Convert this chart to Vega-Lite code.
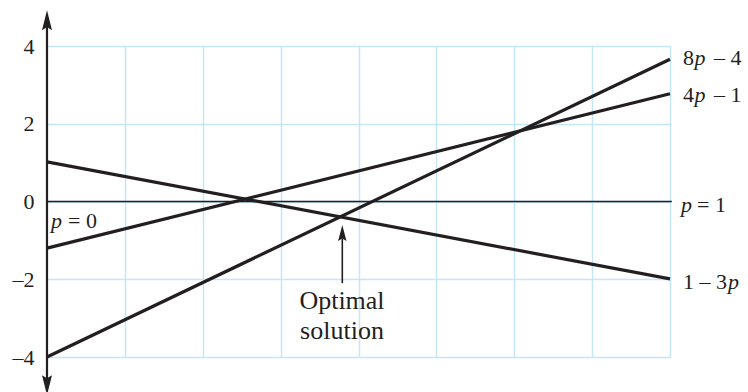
{
  "$schema": "https://vega.github.io/schema/vega-lite/v6.json",
  "width": 623,
  "height": 311,
  "autosize": {"type": "none"},
  "padding": {"left": 47, "top": 46, "right": 78, "bottom": 35},
  "background": "white",
  "config": {"view": {"stroke": null}, "font": "'Liberation Serif', 'Times New Roman', Times, serif"},
  "datasets": {
    "lines": [
      {"line": "8p-4", "p": 0, "v": -4.0},
      {"line": "8p-4", "p": 1, "v": 3.66},
      {"line": "4p-1", "p": 0, "v": -1.2},
      {"line": "4p-1", "p": 1, "v": 2.77},
      {"line": "1-3p", "p": 0, "v": 1.02},
      {"line": "1-3p", "p": 1, "v": -1.99}
    ],
    "zero": [{"p": 0, "v": 0}, {"p": 1.003, "v": 0}],
    "yaxis": [{"p": 0, "v": 4.6}, {"p": 0, "v": -4.6}],
    "shaft": [{"p": 0.474, "v": -2.1}, {"p": 0.474, "v": -0.95}],
    "arrows": [
      {"dir": "up", "p": 0, "v": 4.6},
      {"dir": "down", "p": 0, "v": -4.66},
      {"dir": "opt", "p": 0.474, "v": -0.862}
    ],
    "labels": [
      {"id": "a", "p": 1, "v": 3.7, "pre": "8", "it": "p", "post": "– 4"},
      {"id": "b", "p": 1, "v": 2.74, "pre": "4", "it": "p", "post": "– 1"},
      {"id": "c", "p": 1, "v": -0.09, "pre": "", "it": "p", "post": "= 1"},
      {"id": "d", "p": 1, "v": -2.06, "pre": "1 – 3", "it": "p", "post": ""},
      {"id": "e", "p": 0, "v": -0.5, "pre": "", "it": "p", "post": "= 0"}
    ],
    "notes": [
      {"p": 0.4735, "v": -2.57, "t": "Optimal"},
      {"p": 0.4735, "v": -3.32, "t": "solution"}
    ]
  },
  "layer": [
    {
      "data": {"name": "lines"},
      "mark": {"type": "line", "color": "#231f20", "strokeWidth": 3.2, "clip": false},
      "encoding": {
        "x": {
          "field": "p", "type": "quantitative",
          "scale": {"domain": [0, 1], "nice": false, "zero": false},
          "axis": {
            "title": null, "values": [0.125, 0.25, 0.375, 0.5, 0.625, 0.75, 0.875, 1],
            "grid": true, "gridColor": "#c4e6f6", "gridWidth": 1.5,
            "labels": false, "ticks": false, "domain": false
          }
        },
        "y": {
          "field": "v", "type": "quantitative",
          "scale": {"domain": [-4, 4], "nice": false, "zero": false},
          "axis": {
            "title": null, "values": [-4, -2, 0, 2, 4],
            "grid": true, "gridColor": "#c4e6f6", "gridWidth": 1.5,
            "ticks": false, "domain": false,
            "labelFont": "'Liberation Serif', 'Times New Roman', Times, serif", "labelFontSize": 22, "labelColor": "#231f20",
            "labelPadding": 13, "labelBaseline": "middle",
            "labelExpr": "replace(datum.label, '−', '–')"
          }
        },
        "detail": {"field": "line"}
      }
    },
    {
      "data": {"name": "zero"},
      "mark": {"type": "line", "color": "#231f20", "strokeWidth": 1.3, "clip": false},
      "encoding": {"x": {"field": "p", "type": "quantitative"}, "y": {"field": "v", "type": "quantitative"}}
    },
    {
      "data": {"name": "yaxis"},
      "mark": {"type": "line", "color": "#231f20", "strokeWidth": 2.2, "clip": false},
      "encoding": {"x": {"field": "p", "type": "quantitative"}, "y": {"field": "v", "type": "quantitative"}}
    },
    {
      "data": {"name": "shaft"},
      "mark": {"type": "line", "color": "#231f20", "strokeWidth": 1.6, "clip": false},
      "encoding": {"x": {"field": "p", "type": "quantitative"}, "y": {"field": "v", "type": "quantitative"}}
    },
    {
      "data": {"name": "arrows"},
      "transform": [{"filter": "datum.dir == 'up'"}],
      "mark": {"type": "point", "filled": true, "color": "#231f20", "opacity": 1, "size": 625, "strokeWidth": 0, "clip": false,
               "shape": "M0,-1L0.4,0.6L0,0.35L-0.4,0.6Z"},
      "encoding": {"x": {"field": "p", "type": "quantitative"}, "y": {"field": "v", "type": "quantitative"}}
    },
    {
      "data": {"name": "arrows"},
      "transform": [{"filter": "datum.dir == 'down'"}],
      "mark": {"type": "point", "filled": true, "color": "#231f20", "opacity": 1, "size": 625, "strokeWidth": 0, "clip": false,
               "shape": "M0,1L0.4,-0.6L0,-0.35L-0.4,-0.6Z"},
      "encoding": {"x": {"field": "p", "type": "quantitative"}, "y": {"field": "v", "type": "quantitative"}}
    },
    {
      "data": {"name": "arrows"},
      "transform": [{"filter": "datum.dir == 'opt'"}],
      "mark": {"type": "point", "filled": true, "color": "#231f20", "opacity": 1, "size": 400, "strokeWidth": 0, "clip": false,
               "shape": "M0,-1L0.42,0.6L0,0.35L-0.42,0.6Z"},
      "encoding": {"x": {"field": "p", "type": "quantitative"}, "y": {"field": "v", "type": "quantitative"}}
    },
    {
      "data": {"name": "notes"},
      "mark": {"type": "text", "fontSize": 26, "color": "#231f20", "align": "center", "baseline": "middle"},
      "encoding": {"x": {"field": "p", "type": "quantitative"}, "y": {"field": "v", "type": "quantitative"}, "text": {"field": "t"}}
    },
    {
      "data": {"name": "labels"},
      "transform": [{"filter": "datum.pre != ''"}],
      "mark": {"type": "text", "fontSize": 22, "color": "#231f20", "align": "left", "baseline": "middle", "dx": 13},
      "encoding": {"x": {"field": "p", "type": "quantitative"}, "y": {"field": "v", "type": "quantitative"}, "text": {"field": "pre"}}
    },
    {
      "data": {"name": "labels"},
      "transform": [{"filter": "datum.id == 'a' || datum.id == 'b'"}],
      "mark": {"type": "text", "fontStyle": "italic", "fontSize": 22, "color": "#231f20", "align": "left", "baseline": "middle", "dx": 24.5},
      "encoding": {"x": {"field": "p", "type": "quantitative"}, "y": {"field": "v", "type": "quantitative"}, "text": {"field": "it"}}
    },
    {
      "data": {"name": "labels"},
      "transform": [{"filter": "datum.id == 'a' || datum.id == 'b'"}],
      "mark": {"type": "text", "fontSize": 22, "color": "#231f20", "align": "left", "baseline": "middle", "dx": 44},
      "encoding": {"x": {"field": "p", "type": "quantitative"}, "y": {"field": "v", "type": "quantitative"}, "text": {"field": "post"}}
    },
    {
      "data": {"name": "labels"},
      "transform": [{"filter": "datum.id == 'c'"}],
      "mark": {"type": "text", "fontStyle": "italic", "fontSize": 22, "color": "#231f20", "align": "left", "baseline": "middle", "dx": 11},
      "encoding": {"x": {"field": "p", "type": "quantitative"}, "y": {"field": "v", "type": "quantitative"}, "text": {"field": "it"}}
    },
    {
      "data": {"name": "labels"},
      "transform": [{"filter": "datum.id == 'c'"}],
      "mark": {"type": "text", "fontSize": 22, "color": "#231f20", "align": "left", "baseline": "middle", "dx": 27},
      "encoding": {"x": {"field": "p", "type": "quantitative"}, "y": {"field": "v", "type": "quantitative"}, "text": {"field": "post"}}
    },
    {
      "data": {"name": "labels"},
      "transform": [{"filter": "datum.id == 'd'"}],
      "mark": {"type": "text", "fontStyle": "italic", "fontSize": 22, "color": "#231f20", "align": "left", "baseline": "middle", "dx": 58},
      "encoding": {"x": {"field": "p", "type": "quantitative"}, "y": {"field": "v", "type": "quantitative"}, "text": {"field": "it"}}
    },
    {
      "data": {"name": "labels"},
      "transform": [{"filter": "datum.id == 'e'"}],
      "mark": {"type": "text", "fontStyle": "italic", "fontSize": 22, "color": "#231f20", "align": "left", "baseline": "middle", "dx": 4},
      "encoding": {"x": {"field": "p", "type": "quantitative"}, "y": {"field": "v", "type": "quantitative"}, "text": {"field": "it"}}
    },
    {
      "data": {"name": "labels"},
      "transform": [{"filter": "datum.id == 'e'"}],
      "mark": {"type": "text", "fontSize": 22, "color": "#231f20", "align": "left", "baseline": "middle", "dx": 21},
      "encoding": {"x": {"field": "p", "type": "quantitative"}, "y": {"field": "v", "type": "quantitative"}, "text": {"field": "post"}}
    }
  ]
}
